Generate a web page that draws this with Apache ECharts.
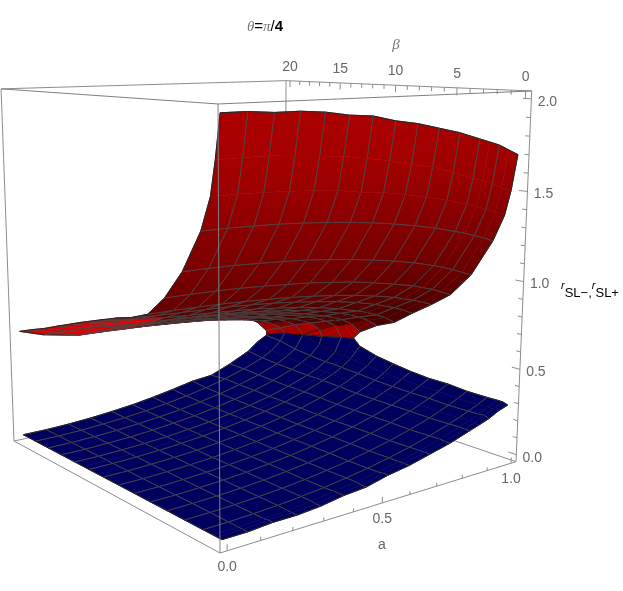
<!DOCTYPE html>
<html><head><meta charset="utf-8">
<style>html,body{margin:0;padding:0;background:#fff}#c{width:623px;height:591px}</style>
<script src="https://cdn.jsdelivr.net/npm/echarts@6/dist/echarts.min.js"></script>
</head><body><div id="c"></div>
<script>
// parameter stops
const aStops = [0,.0769,.1538,.2308,.3077,.3846,.4615,.5385,.6154,.6923,.7692,.8462,.885,.9231,.9615,1];
const betaStops = [0,.38,.77,1.54,3.08,4.62,6.15,7.69,9.23,10.77,12.31,12.92,13.85,15.38,16.92,18.46,20];
// largest a reached by the surfaces on each beta row (the two sheets join there)
const edgeA = [1,1,1,1,1,1,1,1,1,1,1,1,.99,.973,.957,.941,.926];
// r_SL+ (upper sheet), one row per beta stop
const rPlus = [
[2.00,2.00,1.99,1.99,1.98,1.96,1.95,1.92,1.90,1.87,1.84,1.80,1.78,1.76,1.73,1.70],
[1.79,1.79,1.79,1.78,1.77,1.76,1.74,1.72,1.69,1.67,1.63,1.59,1.57,1.55,1.52,1.50],
[1.62,1.62,1.615,1.61,1.60,1.59,1.57,1.556,1.535,1.51,1.48,1.446,1.428,1.407,1.384,1.36],
[1.453,1.452,1.448,1.443,1.434,1.423,1.41,1.393,1.373,1.35,1.322,1.29,1.272,1.252,1.231,1.207],
[1.24,1.239,1.236,1.229,1.221,1.212,1.197,1.181,1.161,1.139,1.112,1.079,1.061,1.038,1.015,.99],
[1.088,1.087,1.084,1.079,1.071,1.061,1.051,1.034,1.018,.995,.969,.94,.92,.901,.876,.85],
[.98,.979,.976,.972,.965,.957,.947,.934,.918,.899,.876,.848,.83,.811,.79,.764],
[.936,.925,.92,.915,.909,.90,.889,.875,.857,.837,.812,.78,.76,.74,.714,.685],
[.905,.885,.865,.857,.85,.84,.83,.814,.797,.775,.748,.714,.694,.669,.64,.60],
[.868,.84,.812,.808,.801,.793,.782,.768,.751,.732,.705,.673,.652,.628,.596,.552],
[.83,.80,.77,.766,.76,.751,.74,.727,.71,.69,.663,.629,.609,.583,.546,.482],
[.815,.785,.754,.75,.745,.736,.726,.713,.695,.675,.649,.616,.594,.567,.528,.43],
[.79,.755,.73,.727,.72,.713,.702,.689,.674,.653,.628,.596,.574,.546,.507,.419],
[.75,.715,.683,.679,.674,.666,.657,.645,.631,.612,.588,.556,.533,.506,.452,.4025],
[.708,.67,.644,.64,.636,.629,.619,.609,.595,.577,.556,.525,.499,.467,.389,.389],
[.672,.63,.594,.591,.586,.581,.573,.564,.553,.536,.515,.486,.458,.417,.375,.375],
[.633,.59,.565,.558,.552,.548,.541,.535,.529,.522,.512,.475,.437,.37,.345,.345]
];
// r_SL- (lower sheet), same layout
const rMinus = [
[0,0,.01,.01,.02,.04,.05,.08,.10,.13,.16,.20,.22,.24,.27,.29],
[0,0,.01,.01,.02,.04,.05,.08,.10,.13,.16,.20,.22,.25,.27,.30],
[0,0,.006,.01,.024,.04,.055,.076,.10,.13,.163,.202,.224,.247,.2725,.30],
[0,.001,.006,.013,.024,.037,.055,.075,.10,.128,.162,.20,.222,.246,.271,.299],
[0,.002,.006,.013,.023,.036,.053,.073,.097,.125,.158,.197,.219,.244,.271,.30],
[0,.002,.006,.013,.023,.037,.053,.074,.098,.127,.161,.20,.224,.249,.278,.31],
[0,.001,.006,.013,.023,.037,.053,.074,.098,.126,.16,.20,.224,.249,.278,.31],
[0,.001,.006,.013,.023,.036,.052,.073,.097,.125,.16,.20,.226,.252,.284,.32],
[0,.001,.006,.0126,.022,.036,.052,.072,.096,.125,.16,.202,.228,.257,.292,.336],
[0,.001,.006,.013,.023,.037,.054,.074,.099,.128,.165,.209,.236,.266,.304,.355],
[0,.001,.006,.013,.023,.037,.054,.075,.10,.13,.167,.213,.24,.273,.317,.388],
[0,.001,.006,.013,.023,.037,.054,.075,.10,.131,.169,.215,.244,.278,.324,.43],
[0,.001,.006,.013,.023,.037,.054,.075,.10,.13,.168,.214,.243,.278,.325,.419],
[0,.001,.006,.013,.024,.038,.055,.077,.103,.134,.172,.22,.251,.288,.35,.4025],
[0,.001,.006,.014,.025,.039,.057,.079,.105,.137,.176,.225,.259,.301,.389,.389],
[0,.001,.006,.015,.026,.041,.059,.082,.109,.142,.183,.234,.272,.325,.375,.375],
[0,.001,.006,.015,.028,.044,.065,.09,.118,.132,.185,.248,.30,.335,.345,.345]
];
// which stops carry a mesh line
const aMeshIdx = [0,1,2,3,4,5,6,7,8,9,10,11,13,15];
const betaMeshIdx = [0,3,4,5,6,7,8,9,10,12,13,14,15,16];
// axis ticks
const aTicks = [0,.1,.2,.3,.4,.5,.6,.7,.8,.9,1];
const aMajor = ['0.0','0.5','1.0'];
const betaTicks = [0,1,2,3,4,5,6,7,8,9,10,11,12,13,14,15,16,17,18,19,20];
const betaMajor = ['0','5','10','15','20'];
const rTicks = [0,.1,.2,.3,.4,.5,.6,.7,.8,.9,1,1.1,1.2,1.3,1.4,1.5,1.6,1.7,1.8,1.9,2];
const rMajor = ['0.0','0.5','1.0','1.5','2.0'];

// camera: homogeneous projection of the unit box to the page
function toPage(u,v,w){
  const W = 1+.2136*u+.278*v-.0671*w;
  return [(220+406.2*u-202.1*v-16.6*w)/W,(553+7.3*u+10.6*v-456*w)/W,W];
}
const nA=a=>.02+.96*a, nB=b=>.02+.96*b/20, nR=r=>.02+.96*r/2;

function vert(tbl,i,j){
  const a=Math.min(aStops[j],edgeA[i]);
  const p=toPage(nA(a),nB(betaStops[i]),nR(tbl[i][j]));
  return {x:p[0],y:p[1],w:p[2],r:tbl[i][j],a:a};
}
function shade(r){
  const s=[[0,70],[.5,72],[.7,78],[.85,88],[1,103],[1.2,120],[1.4,136],[1.7,163],[2,172]];
  for(let n=1;n<s.length;n++) if(r<=s[n][0]){const t=(r-s[n-1][0])/(s[n][0]-s[n-1][0]);return s[n-1][1]+t*(s[n][1]-s[n-1][1]);}
  return 172;
}
function buildQuads(tbl,red){
  const out=[];
  for(let i=0;i<betaStops.length-1;i++)for(let j=0;j<aStops.length-1;j++){
    const p=[vert(tbl,i,j),vert(tbl,i,j+1),vert(tbl,i+1,j+1),vert(tbl,i+1,j)];
    const q={p,red,i,j,depth:(p[0].w+p[1].w+p[2].w+p[3].w)/4};
    q.mesh=[betaMeshIdx.includes(i),aMeshIdx.includes(j+1),betaMeshIdx.includes(i+1),aMeshIdx.includes(j)];
    q.edge=[i===0,j===aStops.length-2||(i>=11&&j>=13),i===betaStops.length-2,j===0];
    if(red){
      const da=aStops[j+1]-aStops[j];
      const slope=(tbl[i][j]-tbl[i][j+1])/da;
      q.tip=(betaStops[i]>=6&&aStops[j]<.16&&slope>.2)||(betaStops[i]>=12&&aStops[j]<.24);
      const gap=(rPlus[i][j+1]-rMinus[i][j+1]+rPlus[i+1][j+1]-rMinus[i+1][j+1])/2;
      q.glow=(betaStops[i]>=9&&gap<.2)?Math.min(1,(.2-gap)/.14):0;
    }
    out.push(q);
  }
  return out.sort((m,n)=>n.depth-m.depth);
}
const blueQuads=buildQuads(rMinus,false);
const redQuads=buildQuads(rPlus,true);
const quads=blueQuads.concat(redQuads);

function quadItem(params,api){
  const q=quads[params.dataIndex];
  const pts=q.p.map(v=>api.coord([v.x,v.y]));
  let fill,stroke;
  if(q.red){
    let top=q.p[0],bot=q.p[0];
    q.p.forEach(v=>{if(v.y<top.y)top=v;if(v.y>bot.y)bot=v;});
    const c=v=>{let R=shade(v.r);if(q.tip)R=222;R=R+(168-R)*(q.glow||0);return 'rgb('+Math.round(R)+',0,0)';};
    fill={type:'linear',x:0,y:api.coord([0,top.y])[1],x2:0,y2:api.coord([0,bot.y])[1],global:true,
      colorStops:[{offset:0,color:c(top)},{offset:1,color:c(bot)}]};
    const mid={x:0,y:0,r:(top.r+bot.r)/2};
    stroke=c(mid);
  } else {fill='#00005f';stroke='#00005f';}
  const kids=[{type:'polygon',shape:{points:pts},style:{fill,stroke,lineWidth:.6}}];
  for(let s=0;s<4;s++){
    const A=pts[s],B=pts[(s+1)%4];
    if(Math.abs(A[0]-B[0])+Math.abs(A[1]-B[1])<.01)continue;
    if(q.mesh[s])kids.push({type:'line',shape:{x1:A[0],y1:A[1],x2:B[0],y2:B[1]},style:{stroke:'#4a4a4a',lineWidth:.9,opacity:.95}});
    if(q.edge[s])kids.push({type:'line',shape:{x1:A[0],y1:A[1],x2:B[0],y2:B[1]},style:{stroke:'#111',lineWidth:.7}});
  }
  return {type:'group',children:kids};
}

// frame edges, in box coordinates
const backEdges=[[0,0,0,1,0,0],[1,0,0,1,1,0],[0,1,0,1,1,0],[1,1,0,1,1,1],[1,0,0,1,0,1],[0,1,0,0,1,1],[1,0,1,1,1,1],[0,1,1,1,1,1],[0,0,0,0,1,0]];
const frontEdges=[[0,0,0,0,0,1],[0,0,1,1,0,1],[0,0,1,0,1,1]];
const segs=[];
aTicks.forEach((t,i)=>{const m=i%5===0?.016:.009;segs.push([nA(t),0,0,nA(t),0,m]);});
betaTicks.forEach((t,i)=>{const m=i%5===0?.02:.012;segs.push([1,nB(t),1,1,nB(t),1-m]);});
rTicks.forEach((t,i)=>{const m=i%5===0?.028:.015;segs.push([1,0,nR(t),1,m,nR(t)]);});
function segItem(list,color){
  return function(params,api){
    const s=list[params.dataIndex];
    const A=toPage(s[0],s[1],s[2]),B=toPage(s[3],s[4],s[5]);
    const a=api.coord([A[0],A[1]]),b=api.coord([B[0],B[1]]);
    return {type:'line',shape:{x1:a[0],y1:a[1],x2:b[0],y2:b[1]},style:{stroke:color,lineWidth:1}};
  };
}
const FONT='"Liberation Sans",Arial,sans-serif', GREY='#666';
const labels=[];
aMajor.forEach(t=>{const p=toPage(nA(+t),0,0);labels.push({x:p[0],y:p[1]+16,text:t});});
betaMajor.forEach(t=>{const p=toPage(1,nB(+t),1);labels.push({x:p[0],y:p[1]-14,text:t});});
rMajor.forEach(t=>{const p=toPage(1,0,nR(+t));labels.push({x:p[0]+16,y:p[1]+3,text:t});});
labels.push({x:382,y:545,text:'a'});
function textItem(params,api){
  const l=labels[params.dataIndex];
  const c=api.coord([l.x,l.y]);
  return {type:'text',style:{x:c[0],y:c[1],text:l.text,fill:GREY,font:'14px '+FONT,align:'center',verticalAlign:'middle'}};
}
const richOpts={
  t:{fontFamily:'"Liberation Serif",serif',fontStyle:'italic',fontSize:15,fill:'#777',color:'#777'},
  u:{fontFamily:FONT,fontSize:15,color:'#777'},
  b:{fontFamily:FONT,fontSize:15,fontWeight:'bold',color:'#666'},
  r:{fontFamily:FONT,fontStyle:'italic',fontSize:11,color:GREY,verticalAlign:'top',lineHeight:20},
  s:{fontFamily:FONT,fontSize:13,color:GREY,verticalAlign:'bottom',lineHeight:20}
};
const richText=[
 {x:265,y:27,text:'{t|θ}{u|=}{t|π}{u|/}{b|4}'},
 {x:396,y:45,text:'{t|β}'},
 {x:590,y:290,text:'{r|r}{s|SL−}{s|,}{r|r}{s|SL+}'}
];
function richItem(params,api){
  const l=richText[params.dataIndex];
  const c=api.coord([l.x,l.y]);
  return {type:'text',style:{x:c[0],y:c[1],text:l.text,rich:richOpts,align:'center',verticalAlign:'middle'}};
}
const idx=n=>Array.from({length:n},(_,i)=>[i]);
const custom=(render,n,z)=>({type:'custom',coordinateSystem:'cartesian2d',renderItem:render,data:idx(n),z,silent:true,animation:false,clip:false,encode:{x:0,y:0}});
const chart=echarts.init(document.getElementById('c'),null,{renderer:'canvas'});
chart.setOption({
  animation:false,backgroundColor:'#fff',
  grid:{left:0,right:0,top:0,bottom:0},
  xAxis:{type:'value',min:0,max:623,show:false},
  yAxis:{type:'value',min:0,max:591,inverse:true,show:false},
  series:[
    custom(segItem(backEdges,'#8c8c8c'),backEdges.length,1),
    custom(segItem(segs,'#8c8c8c'),segs.length,1),
    custom(quadItem,quads.length,2),
    custom(segItem(frontEdges,'#808080'),frontEdges.length,3),
    custom(textItem,labels.length,4),
    custom(richItem,richText.length,4)
  ]
});
</script></body></html>
